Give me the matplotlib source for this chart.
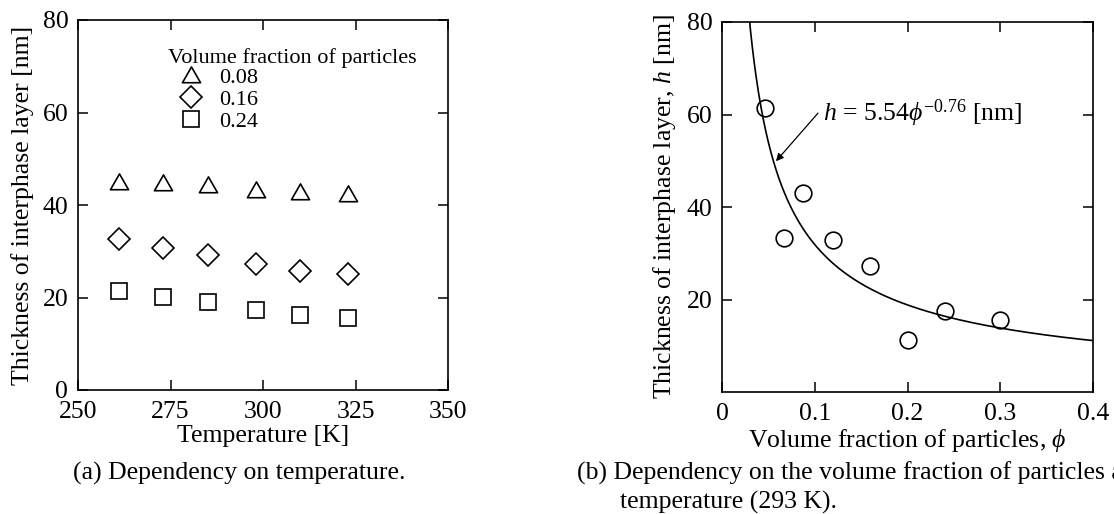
import numpy as np
import matplotlib
matplotlib.use('Agg')
import matplotlib.pyplot as plt
from matplotlib.path import Path

plt.rcParams['font.family'] = ['Liberation Serif', 'DejaVu Serif']
plt.rcParams['mathtext.fontset'] = 'custom'
plt.rcParams['mathtext.rm'] = 'Liberation Serif'
plt.rcParams['mathtext.it'] = 'Liberation Serif:italic'
plt.rcParams['mathtext.bf'] = 'Liberation Serif:bold'

# (a) thickness vs temperature
temperature = [261, 273, 285, 298, 310, 323]
h_008 = [45.0, 44.8, 44.3, 43.2, 42.8, 42.3]
h_016 = [32.6, 30.6, 29.2, 27.2, 25.8, 25.1]
h_024 = [21.5, 20.2, 19.1, 17.4, 16.3, 15.5]
fraction_labels = ['0.08', '0.16', '0.24']

# (b) thickness vs volume fraction at 293 K
phi = [0.046, 0.067, 0.087, 0.120, 0.160, 0.200, 0.240, 0.300]
h_phi = [61.5, 33.2, 43.1, 32.8, 27.2, 11.3, 17.5, 15.5]
fit_a = 5.54
fit_b = -0.76

fs = 18.5
tri = Path([(-1, -0.8), (1, -0.8), (0, 0.95), (-1, -0.8)],
           [Path.MOVETO, Path.LINETO, Path.LINETO, Path.CLOSEPOLY])

fig = plt.figure(figsize=(11.14, 5.14), dpi=100)
W, H = 1114, 514
ax1 = fig.add_axes([78 / W, 1 - 390 / H, 370 / W, 370 / H])
ax2 = fig.add_axes([722 / W, 1 - 392 / H, 371 / W, 370 / H])

for ax in (ax1, ax2):
    for s in ax.spines.values():
        s.set_linewidth(1.2)
    ax.tick_params(direction='in', length=7, width=1.1, top=True, right=True,
                   labelsize=fs)
    ax.tick_params(axis='x', pad=8)
    ax.tick_params(axis='y', pad=7)

mk = dict(ls='none', mfc='none', mec='black', mew=1.2)
ax1.plot(temperature, h_008, marker=tri, ms=13, label=fraction_labels[0], **mk)
ax1.plot(temperature, h_016, marker='D', ms=11, label=fraction_labels[1], **mk)
ax1.plot(temperature, h_024, marker='s', ms=11.5, label=fraction_labels[2], **mk)
ax1.set_xlim(250, 350)
ax1.set_ylim(0, 80)
ax1.set_xticks([250, 275, 300, 325, 350])
ax1.set_yticks([0, 20, 40, 60, 80])
ax1.set_xlabel('Temperature [K]', fontsize=fs, labelpad=1.5)
ax1.set_ylabel('Thickness of interphase layer [nm]', fontsize=fs, labelpad=6)
leg = ax1.legend(title='Volume fraction of particles', loc='upper left',
                 bbox_to_anchor=(0.244, 0.925), frameon=False, fontsize=16,
                 title_fontsize=16, alignment='left', handlelength=2.0,
                 handletextpad=0.3, labelspacing=0.05, borderpad=0,
                 borderaxespad=0)
leg._legend_box.sep = 0

phi_fit = np.linspace(0.029, 0.4, 400)
ax2.plot(phi_fit, fit_a * phi_fit ** fit_b, color='black', lw=1.2)
ax2.plot(phi, h_phi, marker='o', ms=12, **mk)
ax2.set_xlim(0, 0.4)
ax2.set_ylim(0, 80)
ax2.set_xticks([0, 0.1, 0.2, 0.3, 0.4])
ax2.set_xticklabels(['0', '0.1', '0.2', '0.3', '0.4'])
ax2.set_yticks([20, 40, 60, 80])
ax2.set_xlabel(r'Volume fraction of particles, $\phi$', fontsize=fs, labelpad=1.5)
ax2.set_ylabel(r'Thickness of interphase layer, $h$ [nm]', fontsize=fs, labelpad=6)
ax2.text(0.109, 60.3, r'$h$ = 5.54$\phi^{-0.76}$ [nm]', fontsize=fs,
         va='center', ha='left')
ax2.annotate('', xy=(0.0582, 49.9), xytext=(0.1035, 60.3),
             arrowprops=dict(arrowstyle='-|>', lw=0.9, color='black',
                             mutation_scale=11, shrinkA=0, shrinkB=0))

fig.text(73 / W, 1 - 473 / H, '(a) Dependency on temperature.', fontsize=fs,
         ha='left', va='center')
fig.text(577 / W, 1 - 473 / H,
         '(b) Dependency on the volume fraction of particles at room',
         fontsize=fs, ha='left', va='center')
fig.text(620 / W, 1 - 502 / H, 'temperature (293 K).', fontsize=fs,
         ha='left', va='center')

fig.savefig('out.png', dpi=100)
